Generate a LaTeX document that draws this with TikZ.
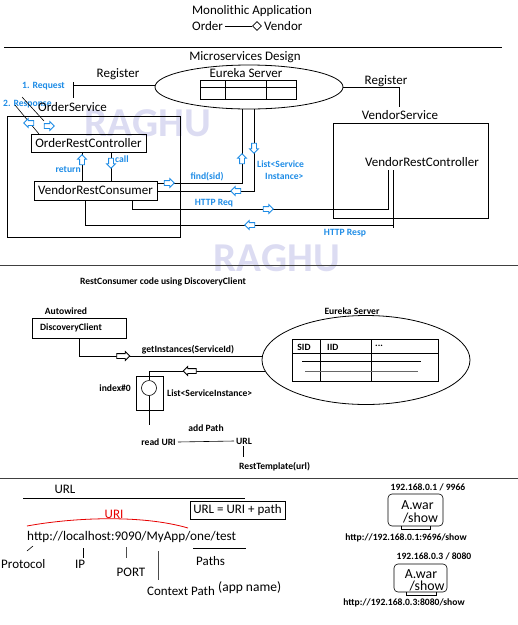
\documentclass[tikz,border=0pt]{standalone}
\usepackage{fontspec}
\setmainfont{Carlito}
\usetikzlibrary{shapes.geometric,shapes.arrows}
\definecolor{bl}{RGB}{30,140,230}
\definecolor{wm}{RGB}{220,220,242}
\definecolor{uri}{RGB}{230,0,0}
\tikzset{
  f12/.style={font=\fontsize{13}{15}\selectfont},
  f13/.style={font=\fontsize{13.2}{15}\selectfont},
  f14/.style={font=\fontsize{13.8}{15}\selectfont},
  f8b/.style={font=\fontsize{9.6}{11}\selectfont\bfseries},
  bt/.style={font=\fontsize{9.6}{11}\selectfont\bfseries, text=bl},
  ln/.style={line width=0.8pt},
  thin1/.style={line width=0.6pt},
  barr/.style={single arrow, draw=bl, fill=white, line width=0.8pt, minimum height=10pt, inner sep=2pt, single arrow head extend=2pt, shape border rotate=#1},
  karr/.style={single arrow, draw=black, fill=white, line width=0.8pt, minimum height=13pt, inner sep=2pt, single arrow head extend=2pt, shape border rotate=#1},
  wmark/.style={font=\fontsize{41}{43}\selectfont\bfseries, text=wm},
}
\begin{document}
\begin{tikzpicture}[x=1pt,y=-1pt]
\useasboundingbox (0,0) rectangle (518,625);
% watermarks
\node[wmark] (wm1) at (148,123) {RAGHU};
\node[wmark] (wm2) at (277,258) {RAGHU};

% ---------- top ----------
\node[f12] (mono) at (252,11) {Monolithic Application};
\node[f12,anchor=west,inner sep=0] (order) at (192,26) {Order};
\node[draw, diamond, minimum size=9pt, inner sep=0, thin1] (dia) at (257,26) {};
\node[f12,anchor=west,inner sep=0] (vendor) at (264,26) {Vendor};
\coordinate (ol) at (225,26);
\draw[thin1] (ol) -- (dia.west);
\coordinate (s1a) at (4,47); \coordinate (s1b) at (502,47);
\draw[ln] (s1a) -- (s1b);
\node[f12] (micro) at (245,57) {Microservices Design};

% ---------- microservices ----------
\node[draw, ellipse, ln, minimum width=188pt, minimum height=44pt, inner sep=0] (eur) at (249,87) {};
\node[f12] (eurt) at (246,73) {Eureka Server};
\draw[thin1] (200,80) rectangle (296,99);
\draw[thin1] (200,87) -- (296,87) (225,80) -- (225,99) (266,80) -- (266,99);

\node[f12] (regl) at (118,74) {Register};
\coordinate (rl0) at (73,85); \coordinate (rl1) at (73,82); \coordinate (rl2) at (73,98);
\draw[ln] (eur.west |- rl0) -- (rl0);
\draw[ln] (rl1) -- (rl2);
\node[f12] (regr) at (386,81) {Register};
\coordinate (rr) at (399,107);
\draw[ln] (eur.east) -| (rr);

\node[bt, anchor=west, inner sep=0] (req) at (22,86) {1. Request};
\node[bt, anchor=west, inner sep=0] (resp) at (3,104) {2. Response};
\node[f12, anchor=west, inner sep=0] (osl) at (38,107) {OrderService};
\coordinate (d1a) at (22,97); \coordinate (d1b) at (44,121);
\coordinate (d2a) at (15,105); \coordinate (d2b) at (39,134);
\draw[thin1] (d1a) -- (d1b);
\draw[thin1] (d2a) -- (d2b);

\node[draw, ln, minimum width=173pt, minimum height=121pt, inner sep=0] (osb) at (93.5,176.5) {};
\node[draw, ln, f12, minimum width=115pt, minimum height=18pt, inner sep=0] (orc) at (88.5,143) {OrderRestController};
\node[draw, ln, f12, minimum width=123pt, minimum height=19pt, inner sep=0] (vrc) at (95.5,190.5) {VendorRestConsumer};

\coordinate (retx) at (82,0); \coordinate (callx) at (111,0);
\draw[ln] (orc.south -| retx) -- (vrc.north -| retx);
\draw[ln] (orc.south -| callx) -- (vrc.north -| callx);
\node[bt, anchor=east, inner sep=0] (rett) at (81,170) {return};
\node[bt, anchor=west, inner sep=0] (callt) at (115,159) {call};

% find(sid)
\coordinate (f1) at (157,183); \coordinate (f2) at (242,109);
\draw[ln] (f1 -| vrc.east) -| (f2);
\node[bt] (find) at (207,177) {find(sid)};
% List<ServiceInstance>
\coordinate (l1) at (157,191); \coordinate (l2) at (254,109);
\draw[ln] (l1 -| vrc.east) -| (l2);
\node[bt, anchor=west, inner sep=0] (lst1) at (257,164) {List<Service};
\node[bt, anchor=west, inner sep=0] (lst2) at (265,176) {Instance>};

% vendor service
\node[f12] (vsl) at (400,115) {VendorService};
\node[draw, ln, minimum width=155pt, minimum height=95pt, inner sep=0] (vsb) at (410.5,170.5) {};
\node[f12] (vrctl) at (422,162) {VendorRestController};

% HTTP Req
\coordinate (h1) at (132,209); \coordinate (h2) at (388,170);
\draw[ln] (vrc.south -| h1) -- (h1) -| (h2);
\node[bt] (hreq) at (214,203) {HTTP Req};
% HTTP Resp
\coordinate (p1) at (85,225); \coordinate (p2) at (394,225);
\draw[ln] (vrc.south -| p1) -- (p1) -- (p2);
\coordinate (p3) at (393,170); \coordinate (p4) at (393,228);
\draw[ln] (p3) -- (p4);
\node[bt] (hresp) at (345,233) {HTTP Resp};

% blue arrows
\node[barr=180] (a1) at (30,123) {};
\node[barr=0] (a2) at (48,126) {};
\node[barr=90] (a3) at (82,161) {};
\node[barr=270] (a4) at (111,162) {};
\node[barr=0] (a5) at (168,183) {};
\node[barr=90] (a6) at (242,160) {};
\node[barr=270] (a7) at (254,147) {};
\node[barr=180] (a8) at (237,191) {};
\node[barr=0] (a9) at (267,209) {};
\node[barr=180] (a10) at (251,225) {};

% separator
\coordinate (s2a) at (0,265); \coordinate (s2b) at (518,265);
\draw[line width=1pt, black!75] (s2a) -- (s2b);

% ---------- DiscoveryClient section ----------
\node[f8b] (rcc) at (163,282) {RestConsumer code using DiscoveryClient};
\node[f8b] (autow) at (66,311) {Autowired};
\node[draw, ln, minimum width=94pt, minimum height=20pt, inner sep=0] (dc) at (79,328) {};
\node[f8b, anchor=west, inner sep=0] (dct) at (40,328) {DiscoveryClient};

\node[draw, ellipse, ln, minimum width=208pt, minimum height=89pt, inner sep=0] (eur2) at (366,360) {};
\node[f8b] (eur2t) at (352,311) {Eureka Server};
\draw[thin1] (292,339) rectangle (438,381);
\draw[thin1] (292,353) -- (438,353) (320,339) -- (320,381) (371,339) -- (371,381);
\draw[thin1] (302,361) -- (421,361);
\draw[thin1, black!60] (305,371) -- (418,371);
\node[f8b] (sid) at (304,347) {SID};
\node[f8b, anchor=west, inner sep=0] (iid) at (327,347) {IID};
\node[f8b, anchor=west, inner sep=0] (dots) at (375,346) {...};

\coordinate (gi) at (263,356);
\draw[ln] (dc.south) |- (gi);
\node[f8b] (git) at (188,350) {getInstances(ServiceId)};
\node[karr=0] (k1) at (122,356) {};

\coordinate (r2) at (265,371);
\node[draw, thin1, minimum width=27pt, minimum height=34pt, inner sep=0] (ib) at (149.5,393) {};
\node[draw, circle, thin1, minimum size=15pt, inner sep=0] (circ) at (149,388) {};
\draw[ln] (r2) -| (circ.north);
\node[karr=180] (k2) at (191,371) {};
\node[f8b, anchor=east, inner sep=0] (idx) at (131,388) {index\#0};
\node[f8b, anchor=west, inner sep=0] (lsi) at (167,393) {List<ServiceInstance>};
\coordinate (cb) at (149,425);
\draw[ln] (circ.south) -- (cb);
\node[f8b, anchor=east, inner sep=2pt] (ruri) at (178,442) {read URI};
\node[f8b, anchor=west, inner sep=2pt] (url2) at (234,441) {URL};
\draw[thin1] (ruri.east) -- (url2.west);
\node[f8b] (addp) at (206,428) {add Path};
\coordinate (u2) at (243,457);
\draw[thin1] (url2.south -| u2) -- (u2);
\node[f8b, anchor=west, inner sep=0] (rt) at (239,467) {RestTemplate(url)};

% separator
\coordinate (s3a) at (0,478); \coordinate (s3b) at (518,478);
\draw[line width=1pt, black!75] (s3a) -- (s3b);

% ---------- URL section ----------
\node[f12] (urlh) at (65,489) {URL};
\coordinate (ul1) at (23,498); \coordinate (ul2) at (245,498);
\draw[ln] (ul1) -- (ul2);
\node[f12, text=uri] (urit) at (114,514) {URI};
\coordinate (ua) at (27,526); \coordinate (ub) at (188,528);
\draw[uri, line width=0.8pt] (ua) .. controls (70,518) and (140,514) .. (ub);
\node[f13, anchor=west, inner sep=0] (http) at (27,537) {http://localhost:9090/MyApp/one/test};
\node[draw, thin1, f12, minimum width=95pt, minimum height=18pt, inner sep=0] (eq) at (237.5,510) {URL = URI + path};
\coordinate (pa1) at (193,548); \coordinate (pa2) at (246,548);
\draw[ln] (pa1) -- (pa2);
\node[f12, anchor=west, inner sep=0] (paths) at (196,561) {Paths};
\coordinate (pr1) at (27,551); \coordinate (pr2) at (33,546);
\draw[thin1] (pr1) -- (pr2);
\node[f12, anchor=west, inner sep=0] (proto) at (1,564) {Protocol};
\coordinate (ip1a) at (83,548); \coordinate (ip1b) at (83,558);
\draw[ln] (ip1a) -- (ip1b);
\node[f12] (ip) at (80,564) {IP};
\coordinate (po1a) at (126,547); \coordinate (po1b) at (126,558);
\draw[thin1, black!70] (po1a) -- (po1b);
\node[f12] (port) at (131,572) {PORT};
\coordinate (cx1a) at (158,551); \coordinate (cx1b) at (158,580);
\draw[thin1, black!70] (cx1a) -- (cx1b);
\node[f12, anchor=west, inner sep=0] (ctx) at (147,591) {Context Path};
\node[font=\fontsize{13.5}{15}\selectfont, anchor=west, inner sep=0] (appn) at (218,588) {(app name)};

% right side servers
\node[f8b] (ipa) at (428,487) {192.168.0.1 / 9966};
\node[draw, rounded corners=4pt, thin1, minimum width=55pt, minimum height=32pt, inner sep=0] (w1) at (415.5,510) {};
\node[f14] (w1a) at (417.5,505) {A.war};
\node[f14] (w1b) at (420.5,518) {/show};
\coordinate (st1a) at (401,529); \coordinate (st1b) at (430,529);
\draw[thin1] (w1.south -| st1a) |- (st1b) -- (w1.south -| st1b);
\node[f8b] (u1t) at (406,538) {http://192.168.0.1:9696/show};

\node[f8b] (ipb) at (434,556) {192.168.0.3 / 8080};
\node[draw, rounded corners=4pt, thin1, minimum width=53pt, minimum height=28pt, inner sep=0] (w2) at (420.5,578) {};
\node[f14] (w2a) at (421,574) {A.war};
\node[f14] (w2b) at (427,586) {/show};
\coordinate (st2a) at (406,595); \coordinate (st2b) at (436,595);
\draw[thin1] (w2.south -| st2a) |- (st2b) -- (w2.south -| st2b);
\node[f8b] (u2t) at (404,603) {http://192.168.0.3:8080/show};
\end{tikzpicture}
\end{document}
